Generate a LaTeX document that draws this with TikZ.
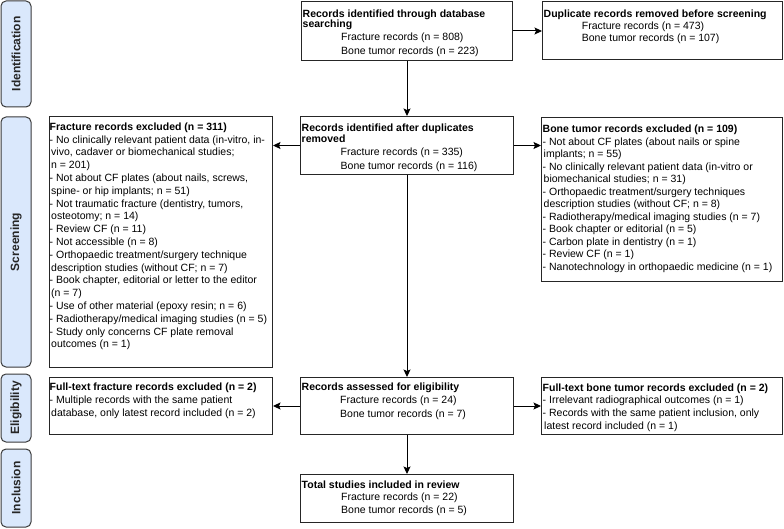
\documentclass[tikz,border=0pt]{standalone}
\usepackage{fontspec}
\setmainfont{Liberation Sans}
\usetikzlibrary{arrows.meta}
\definecolor{sideblue}{HTML}{DAE8FC}
\definecolor{sidedraw}{HTML}{3A3A3A}
\begin{document}
\begin{tikzpicture}[x=1pt,y=-1pt,
  box/.style={draw=black!85, line width=1pt, fill=white, inner sep=0pt, anchor=north west},
  txt/.style={inner sep=0pt, anchor=north west, align=left, font=\fontsize{10.5}{12.7}\selectfont},
  side/.style={draw=sidedraw, line width=1pt, fill=sideblue, rounded corners=5pt, rotate=90, minimum height=30pt, inner sep=0pt, font=\fontsize{12}{14}\selectfont\bfseries, text=black!85},
  arr/.style={draw=black, line width=1pt, -{Stealth[length=7.5pt,width=7pt,inset=1.5pt]}}
]
\useasboundingbox (0,0) rectangle (784,529);

% side labels
\node[side, minimum width=106pt] (sId) at (16,54) {Identification};
\node[side, minimum width=250pt] (sSc) at (16,242) {Screening};
\node[side, minimum width=68pt] (sEl) at (16,408) {Eligibility};
\node[side, minimum width=78pt] (sIn) at (16,488) {Inclusion};

% boxes
\node[box, minimum width=211pt, minimum height=59pt] (ident) at (301,1) {};
\node[box, minimum width=240pt, minimum height=58pt] (dup) at (542,1) {};
\node[box, minimum width=213pt, minimum height=58pt] (after) at (300,116) {};
\node[box, minimum width=223pt, minimum height=251pt] (fracex) at (49,116) {};
\node[box, minimum width=241pt, minimum height=164pt] (boneex) at (541,117) {};
\node[box, minimum width=213pt, minimum height=57pt] (assess) at (300,377) {};
\node[box, minimum width=223pt, minimum height=57pt] (fracft) at (49,377) {};
\node[box, minimum width=241pt, minimum height=57pt] (boneft) at (541,377) {};
\node[box, minimum width=213pt, minimum height=48pt] (total) at (300,474) {};

% texts
\node[txt] (identT) at (302.5,7.5) {\rule{0pt}{10pt}\textbf{Records identified through database}\\[-3pt]\textbf{searching}\\[0pt]\hspace*{38.5pt}Fracture records (n = 808)\\[1.3pt]\hspace*{38.5pt}Bone tumor records (n = 223)};

\node[txt] (dupT) at (543.5,7.3) {\rule{0pt}{10pt}\textbf{Duplicate records removed before screening}\\[-0.5pt]\hspace*{38.2pt}Fracture records (n = 473)\\[-0.5pt]\hspace*{38.2pt}Bone tumor records (n = 107)};

\node[txt] (afterT) at (301.5,121) {\rule{0pt}{10pt}\textbf{Records identified after duplicates}\\[-1.5pt]\textbf{removed}\\[0.5pt]\hspace*{39pt}Fracture records (n = 335)\\[1.3pt]\hspace*{39pt}Bone tumor records (n = 116)};

\node[txt] (assessT) at (301.5,380) {\rule{0pt}{10pt}\textbf{Records assessed for eligibility}\\[0.8pt]\hspace*{38.5pt}Fracture records (n = 24)\\[0.8pt]\hspace*{38.5pt}Bone tumor records (n = 7)};

\node[txt] (totalT) at (301.5,478) {\rule{0pt}{10pt}\textbf{Total studies included in review}\\\hspace*{39.5pt}Fracture records (n = 22)\\\hspace*{39.5pt}Bone tumor records (n = 5)};

\node[txt, font=\fontsize{10.5}{12.8}\selectfont] (fracexT) at (49.5,120) {\rule{0pt}{10pt}\textbf{Fracture records excluded (n = 311)}\\
- No clinically relevant patient data (in-vitro, in-\\
\hspace*{1.5pt}vivo, cadaver or biomechanical studies;\\
\hspace*{1.5pt}n = 201)\\
- Not about CF plates (about nails, screws,\\
\hspace*{1.5pt}spine- or hip implants; n = 51)\\
- Not traumatic fracture (dentistry, tumors,\\
\hspace*{1.5pt}osteotomy; n = 14)\\
- Review CF (n = 11)\\
- Not accessible (n = 8)\\
- Orthopaedic treatment/surgery technique\\
\hspace*{1.5pt}description studies (without CF; n = 7)\\
- Book chapter, editorial or letter to the editor\\
\hspace*{1.5pt}(n = 7)\\
- Use of other material (epoxy resin; n = 6)\\
- Radiotherapy/medical imaging studies (n = 5)\\
- Study only concerns CF plate removal\\
\hspace*{1.5pt}outcomes (n = 1)};

\node[txt, font=\fontsize{10.5}{12.5}\selectfont] (boneexT) at (542.5,122.5) {\rule{0pt}{10pt}\textbf{Bone tumor records excluded (n = 109)}\\
- Not about CF plates (about nails or spine\\
\hspace*{1pt}implants; n = 55)\\
- No clinically relevant patient data (in-vitro or\\
\hspace*{1pt}biomechanical studies; n = 31)\\
- Orthopaedic treatment/surgery techniques\\
\hspace*{1pt}description studies (without CF; n = 8)\\
- Radiotherapy/medical imaging studies (n = 7)\\
- Book chapter or editorial (n = 5)\\
- Carbon plate in dentistry (n = 1)\\
- Review CF (n = 1)\\
- Nanotechnology in orthopaedic medicine (n = 1)};

\node[txt, font=\fontsize{10.5}{13.2}\selectfont] (fracftT) at (49.5,380) {\rule{0pt}{10pt}\textbf{Full-text fracture records excluded (n = 2)}\\
- Multiple records with the same patient\\
\hspace*{1.5pt}database, only latest record included (n = 2)};

\node[txt] (boneftT) at (542.5,381) {\rule{0pt}{10pt}\textbf{Full-text bone tumor records excluded (n = 2)}\\
- Irrelevant radiographical outcomes (n = 1)\\
- Records with the same patient inclusion, only\\
\hspace*{1.5pt}latest record included (n = 1)};

% arrows
\draw[arr] (ident.south) -- (after.north);
\draw[arr] (ident.east) -- (ident.east -| dup.west);
\draw[arr] (after.west) -- (after.west -| fracex.east);
\draw[arr] (after.east) -- (after.east -| boneex.west);
\draw[arr] (after.south) -- (assess.north);
\draw[arr] (assess.west) -- (assess.west -| fracft.east);
\draw[arr] (assess.east) -- (assess.east -| boneft.west);
\draw[arr] (assess.south) -- (total.north);
\end{tikzpicture}
\end{document}
